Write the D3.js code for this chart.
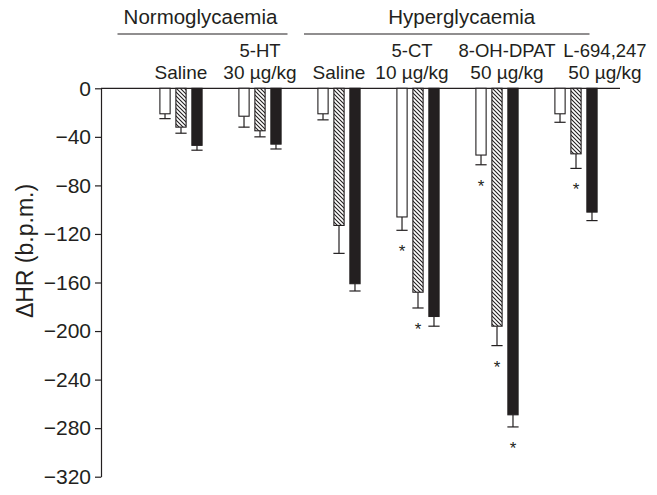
<!DOCTYPE html>
<html>
<head>
<meta charset="utf-8">
<script src="https://cdn.jsdelivr.net/npm/d3@7"></script>
<style>
  body { margin: 0; background: #fff; }
  svg text { font-family: "Liberation Sans", Arial, sans-serif; fill: #231f20; }
</style>
</head>
<body>
<svg id="chart" width="657" height="495"></svg>
<script>
// groups, top label lines
var categories = ["nSaline", "n5HT", "hSaline", "h5CT", "h8OH", "hL694"]
var drugLabels = ["", "5-HT", "", "5-CT", "8-OH-DPAT", "L-694,247"]
var doseLabels = ["Saline", "30 µg/kg", "Saline", "10 µg/kg", "50 µg/kg", "50 µg/kg"]
var conditions = ["Normoglycaemia", "Hyperglycaemia"]

// three bars per group (open, hatched, filled)
var seriesNames = ["open", "hatched", "filled"]
var openValues = [-21, -23, -21, -106, -55, -21]
var openErr = [4, 9, 5, 11, 8, 7]
var hatchedValues = [-32, -35, -113, -168, -196, -54]
var hatchedErr = [5, 5, 23, 13, 16, 12]
var filledValues = [-47, -46, -161, -188, -269, -102]
var filledErr = [4, 4, 6, 8, 10, 7]
var openSig = [0, 0, 0, 1, 1, 0]
var hatchedSig = [0, 0, 0, 1, 1, 1]
var filledSig = [0, 0, 0, 0, 1, 0]

var yTicks = [0, -40, -80, -120, -160, -200, -240, -280, -320]

var svg = d3.select("#chart")
var ink = "#231f20"

var defs = svg.append("defs")
var pat = defs.append("pattern")
    .attr("id", "hatch")
    .attr("patternUnits", "userSpaceOnUse")
    .attr("width", 4).attr("height", 4)
pat.append("rect").attr("width", 4).attr("height", 4).attr("fill", "#fff")
pat.append("path")
    .attr("d", "M-1,-1 L5,5 M-1,3 L1,5 M3,-1 L5,1")
    .attr("stroke", ink).attr("stroke-width", 1.1)

var axisX = 101
var x = d3.scaleBand().domain(categories).range([141.5, 615.5]).padding(0)
var x1 = d3.scaleBand().domain(seriesNames).range([18.4, 60.6]).paddingInner(0.36)
var y = d3.scaleLinear().domain([-320, 0]).range([476.7, 88.3])

// y axis
var yAxis = svg.append("g")
    .attr("transform", "translate(" + axisX + ",0)")
    .call(d3.axisLeft(y).tickValues(yTicks).tickSizeInner(6).tickSizeOuter(0).tickPadding(4))
yAxis.select(".domain").attr("stroke", ink).attr("stroke-width", 1.2)
yAxis.selectAll(".tick line").attr("stroke", ink).attr("stroke-width", 1.2)
yAxis.selectAll(".tick text")
    .style("font-size", "21px")
    .style("font-family", "Liberation Sans, Arial, sans-serif")
    .attr("fill", ink)

svg.append("text")
    .attr("transform", "translate(33,251) rotate(-90)")
    .attr("text-anchor", "middle")
    .style("font-size", "23px")
    .text("ΔHR (b.p.m.)")

// zero line
svg.append("line")
    .attr("x1", axisX).attr("x2", 620)
    .attr("y1", y(0)).attr("y2", y(0))
    .attr("stroke", ink).attr("stroke-width", 1.2)

var series = [
    {name: "open", values: openValues, err: openErr, sig: openSig, fill: "#fff"},
    {name: "hatched", values: hatchedValues, err: hatchedErr, sig: hatchedSig, fill: "url(#hatch)"},
    {name: "filled", values: filledValues, err: filledErr, sig: filledSig, fill: ink}
]

var rows = []
series.forEach(function(s) {
    categories.forEach(function(c, i) {
        rows.push({cat: c, s: s.name, v: s.values[i], e: s.err[i], sig: s.sig[i], fill: s.fill})
    })
})

var bw = x1.bandwidth()
var g = svg.append("g")

// error bars (downwards only)
g.selectAll(".err")
    .data(rows).enter().append("line")
    .attr("x1", function(d) { return x(d.cat) + x1(d.s) + bw / 2 })
    .attr("x2", function(d) { return x(d.cat) + x1(d.s) + bw / 2 })
    .attr("y1", function(d) { return y(d.v) })
    .attr("y2", function(d) { return y(d.v - d.e) })
    .attr("stroke", ink).attr("stroke-width", 1.2)
g.selectAll(".cap")
    .data(rows).enter().append("line")
    .attr("x1", function(d) { return x(d.cat) + x1(d.s) - 0.5 })
    .attr("x2", function(d) { return x(d.cat) + x1(d.s) + bw + 0.5 })
    .attr("y1", function(d) { return y(d.v - d.e) })
    .attr("y2", function(d) { return y(d.v - d.e) })
    .attr("stroke", ink).attr("stroke-width", 1.2)

g.selectAll(".bar")
    .data(rows).enter().append("rect")
    .attr("x", function(d) { return x(d.cat) + x1(d.s) })
    .attr("y", y(0))
    .attr("width", bw)
    .attr("height", function(d) { return y(d.v) - y(0) })
    .attr("fill", function(d) { return d.fill })
    .attr("stroke", ink).attr("stroke-width", 1.1)

// significance stars
g.selectAll(".star")
    .data(rows.filter(function(d) { return d.sig }))
    .enter().append("text")
    .attr("x", function(d) { return x(d.cat) + x1(d.s) + bw / 2 })
    .attr("y", function(d) { return y(d.v - d.e) + 27 })
    .attr("text-anchor", "middle")
    .style("font-size", "17px")
    .text("*")

// group labels
var labelShift = [0, 0, 0, -6, 10, 29]
var cx = function(c) { return x(c) + x.bandwidth() / 2 }
svg.selectAll(".drug")
    .data(categories).enter().append("text")
    .attr("x", function(c, i) { return cx(c) + labelShift[i] })
    .attr("y", 57)
    .attr("text-anchor", "middle")
    .style("font-size", "18.5px")
    .text(function(c, i) { return drugLabels[i] })
svg.selectAll(".dose")
    .data(categories).enter().append("text")
    .attr("x", function(c, i) { return cx(c) + labelShift[i] })
    .attr("y", 79)
    .attr("text-anchor", "middle")
    .style("font-size", "19px")
    .text(function(c, i) { return doseLabels[i] })

// condition headers with underline
var spans = [
    [x(categories[0]) - 24, x(categories[1]) + x.bandwidth() - 12],
    [x(categories[2]) + 4.5, x(categories[5]) + x.bandwidth() - 26]
]
var headShift = [-2, 15]
conditions.forEach(function(name, i) {
    var s = spans[i]
    svg.append("text")
        .attr("x", (s[0] + s[1]) / 2 + headShift[i])
        .attr("y", 24)
        .attr("text-anchor", "middle")
        .style("font-size", "20.5px")
        .text(name)
    svg.append("line")
        .attr("x1", s[0]).attr("x2", s[1])
        .attr("y1", 34).attr("y2", 34)
        .attr("stroke", ink).attr("stroke-width", 1.2)
})
</script>
</body>
</html>
